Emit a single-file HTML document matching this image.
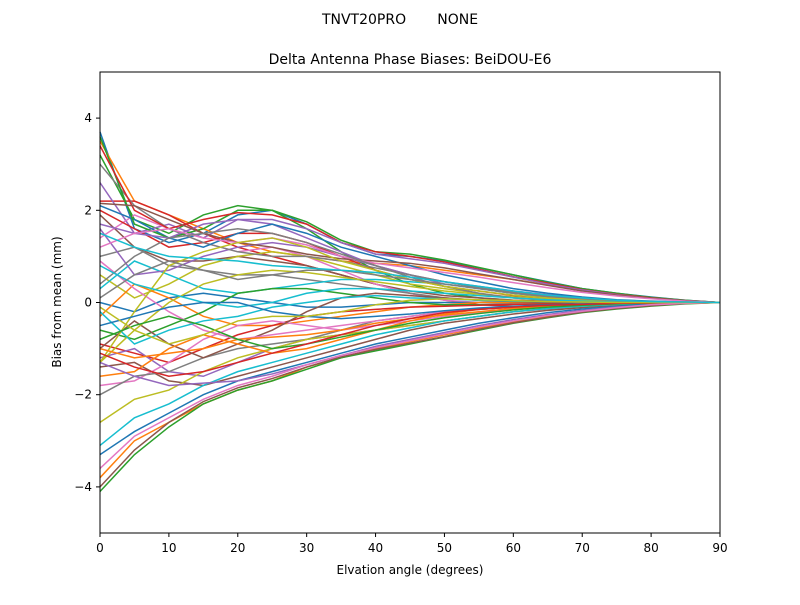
<!DOCTYPE html>
<html><head><meta charset="utf-8"><style>
body{margin:0;background:#fff}
svg text{font-family:"DejaVu Sans","Liberation Sans",sans-serif;fill:#000}
</style></head><body>
<svg id="chart" width="800" height="600" xmlns="http://www.w3.org/2000/svg">
<rect width="800" height="600" fill="#fff"/>
<text x="400" y="24" font-size="14" text-anchor="middle" style="white-space:pre">TNVT20PRO       NONE</text>
<text x="410" y="64" font-size="14" text-anchor="middle">Delta Antenna Phase Biases: BeiDOU-E6</text>
<g id="lines"></g>
<rect x="100" y="72" width="620" height="461" fill="none" stroke="#000" stroke-width="1"/>
<g id="xt"></g>
<g id="yt"></g>
<text x="410" y="574" font-size="12" text-anchor="middle">Elvation angle (degrees)</text>
<text transform="translate(61,302) rotate(-90)" font-size="12" text-anchor="middle">Bias from mean (mm)</text>
</svg>
<script>
const elevations=[0,5,10,15,20,25,30,35,40,45,50,55,60,65,70,75,80,85,90];
const xTicks=[0,10,20,30,40,50,60,70,80,90];
const yTicks=[-4,-2,0,2,4];
const s1=[3.7,1.6,1.3,1.5,1.9,2.0,1.7,1.3,1.05,1.0,0.9,0.75,0.6,0.45,0.3,0.2,0.12,0.05,0];
const s2=[3.5,2.2,1.9,1.6,1.3,1.1,1.0,0.9,0.85,0.8,0.7,0.6,0.5,0.38,0.27,0.18,0.1,0.04,0];
const s3=[3.2,1.8,1.5,1.9,2.1,2.0,1.6,1.1,0.7,0.4,0.2,0.1,0.05,0.02,0,0,0,0,0];
const s4=[2.2,2.2,1.9,1.5,1.2,1.0,0.8,0.6,0.4,0.2,0.05,-0.05,-0.08,-0.08,-0.06,-0.04,-0.02,-0.01,0];
const s5=[2.6,1.5,1.7,1.4,1.8,1.7,1.4,1.1,0.8,0.6,0.4,0.3,0.2,0.12,0.07,0.03,0.01,0,0];
const s6=[1.9,1.2,0.9,0.9,1.0,0.9,0.8,0.6,0.4,0.25,0.15,0.1,0.05,0.03,0.01,0,0,0,0];
const s7=[1.4,1.9,1.6,1.3,1.1,1.2,1.0,0.7,0.4,0.2,0.05,0,-0.03,-0.03,-0.02,-0.01,0,0,0];
const s8=[1.0,1.2,0.8,0.7,0.6,0.6,0.5,0.4,0.3,0.2,0.1,0.05,0.02,0,0,0,0,0,0];
const s9=[0.6,0.1,0.4,0.8,1.0,1.1,1.0,0.8,0.6,0.4,0.3,0.2,0.1,0.05,0.02,0.01,0,0,0];
const s10=[0.3,0.9,0.6,0.3,0.2,0.3,0.4,0.5,0.5,0.45,0.4,0.3,0.2,0.13,0.08,0.04,0.02,0.01,0];
const s11=[0.0,-0.2,0.1,0.2,0.1,0.0,-0.1,-0.1,-0.05,0,0,0,0,0,0,0,0,0,0];
const s12=[-0.3,0.4,0.1,-0.3,-0.5,-0.5,-0.4,-0.3,-0.2,-0.1,-0.05,0,0,0,0,0,0,0,0];
const s13=[-0.6,-0.8,-0.5,-0.2,0.2,0.3,0.3,0.2,0.1,0,-0.05,-0.05,-0.04,-0.03,-0.02,-0.01,0,0,0];
const s14=[-0.9,-1.1,-1.3,-1.0,-0.7,-0.5,-0.3,-0.2,-0.15,-0.1,-0.08,-0.06,-0.04,-0.03,-0.02,-0.01,0,0,0];
const s15=[-1.2,-1.0,-1.5,-1.6,-1.3,-1.0,-0.8,-0.7,-0.6,-0.5,-0.4,-0.3,-0.2,-0.14,-0.09,-0.05,-0.02,-0.01,0];
const s16=[-1.4,-1.3,-1.7,-1.8,-1.6,-1.4,-1.2,-1.0,-0.8,-0.6,-0.45,-0.35,-0.25,-0.17,-0.11,-0.06,-0.03,-0.01,0];
const s17=[-1.8,-1.7,-1.3,-0.8,-0.5,-0.4,-0.5,-0.6,-0.5,-0.4,-0.3,-0.22,-0.15,-0.1,-0.06,-0.03,-0.01,0,0];
const s18=[-2.0,-1.6,-1.5,-1.2,-1.0,-0.9,-0.8,-0.6,-0.4,-0.3,-0.2,-0.15,-0.1,-0.06,-0.03,-0.01,0,0,0];
const s19=[-2.6,-2.1,-1.9,-1.5,-1.2,-1.0,-0.8,-0.7,-0.6,-0.5,-0.4,-0.3,-0.2,-0.13,-0.08,-0.04,-0.02,0,0];
const s20=[-3.1,-2.5,-2.2,-1.8,-1.5,-1.3,-1.1,-0.9,-0.7,-0.55,-0.4,-0.3,-0.2,-0.13,-0.08,-0.04,-0.02,0,0];
const s21=[-3.3,-2.8,-2.4,-2.0,-1.7,-1.5,-1.3,-1.1,-0.9,-0.75,-0.6,-0.45,-0.33,-0.22,-0.14,-0.08,-0.03,-0.01,0];
const s22=[-3.8,-3.0,-2.6,-2.2,-1.9,-1.7,-1.4,-1.2,-1.0,-0.85,-0.7,-0.55,-0.42,-0.3,-0.2,-0.12,-0.06,-0.02,0];
const s23=[-4.1,-3.3,-2.7,-2.2,-1.9,-1.7,-1.45,-1.2,-1.05,-0.9,-0.75,-0.6,-0.45,-0.33,-0.22,-0.14,-0.08,-0.03,0];
const s24=[2.0,1.6,1.2,1.3,1.5,1.5,1.3,1.0,0.7,0.5,0.35,0.25,0.15,0.1,0.05,0.02,0.01,0,0];
const s25=[1.6,0.6,0.7,1.0,1.2,1.3,1.2,1.0,0.8,0.6,0.45,0.35,0.25,0.17,0.1,0.05,0.02,0.01,0];
const s26=[-1.0,-0.4,-0.9,-1.2,-0.9,-0.6,-0.2,0.1,0.2,0.15,0.1,0.05,0.02,0,0,0,0,0,0];
const s27=[0.9,0.3,-0.2,-0.6,-0.8,-0.7,-0.6,-0.5,-0.4,-0.3,-0.2,-0.15,-0.1,-0.06,-0.03,-0.01,0,0,0];
const s28=[3.0,2.1,1.6,1.3,1.1,1.0,1.0,0.9,0.75,0.6,0.45,0.32,0.22,0.14,0.08,0.04,0.02,0.01,0];
const s29=[-1.3,-0.6,0.0,0.4,0.6,0.7,0.65,0.55,0.45,0.35,0.25,0.18,0.12,0.07,0.04,0.02,0.01,0,0];
const s30=[-0.2,-0.9,-0.6,-0.4,-0.3,-0.1,0.0,0.1,0.15,0.1,0.08,0.05,0.03,0.02,0.01,0,0,0,0];
const s31=[2.1,1.8,1.4,1.2,1.5,1.7,1.5,1.2,1.0,0.8,0.6,0.45,0.3,0.2,0.12,0.06,0.03,0.01,0];
const s32=[-1.6,-1.5,-1.0,-0.7,-0.9,-1.1,-1.0,-0.8,-0.6,-0.4,-0.25,-0.15,-0.1,-0.06,-0.03,-0.01,0,0,0];
const s33=[3.6,1.7,1.4,1.6,2.0,2.0,1.75,1.35,1.1,1.05,0.92,0.76,0.6,0.44,0.3,0.2,0.11,0.05,0];
const s34=[3.4,2.0,1.6,1.8,1.95,1.9,1.7,1.3,1.1,1.0,0.88,0.72,0.56,0.42,0.28,0.18,0.1,0.04,0];
const s35=[1.7,1.5,1.4,1.7,1.8,1.8,1.6,1.3,1.05,0.95,0.85,0.7,0.55,0.4,0.27,0.17,0.09,0.04,0];
const s36=[2.15,2.1,1.8,1.5,1.3,1.2,1.05,0.95,0.9,0.85,0.75,0.62,0.5,0.37,0.25,0.16,0.09,0.04,0];
const s37=[1.2,1.5,1.6,1.4,1.3,1.4,1.25,1.0,0.85,0.75,0.65,0.55,0.43,0.32,0.22,0.14,0.08,0.03,0];
const s38=[0.4,1.0,1.4,1.5,1.6,1.5,1.3,1.05,0.8,0.55,0.35,0.2,0.1,0.05,0.02,0.01,0,0,0];
const s39=[-1.3,-0.2,0.8,1.1,1.3,1.4,1.2,0.9,0.7,0.5,0.35,0.25,0.16,0.1,0.06,0.03,0.01,0,0];
const s40=[0.8,0.4,0.2,0.0,-0.1,0.0,0.2,0.3,0.3,0.25,0.2,0.15,0.1,0.06,0.03,0.01,0,0,0];
const s41=[-0.5,-0.3,-0.1,0.0,0.0,-0.2,-0.3,-0.35,-0.3,-0.25,-0.18,-0.12,-0.08,-0.05,-0.03,-0.01,0,0,0];
const s42=[-1.0,-1.2,-1.1,-1.0,-0.8,-0.75,-0.7,-0.6,-0.45,-0.35,-0.27,-0.2,-0.13,-0.08,-0.05,-0.02,-0.01,0,0];
const s43=[-0.8,-0.5,-0.3,-0.5,-0.8,-1.0,-0.9,-0.75,-0.6,-0.45,-0.33,-0.24,-0.16,-0.1,-0.06,-0.03,-0.01,0,0];
const s44=[-1.1,-1.4,-1.6,-1.5,-1.3,-1.1,-0.9,-0.7,-0.5,-0.35,-0.22,-0.15,-0.1,-0.06,-0.04,-0.02,-0.01,0,0];
const s45=[-1.3,-1.6,-1.8,-1.75,-1.7,-1.55,-1.35,-1.15,-0.95,-0.8,-0.65,-0.5,-0.37,-0.26,-0.17,-0.1,-0.05,-0.02,0];
const s46=[-4.0,-3.2,-2.6,-2.15,-1.85,-1.65,-1.4,-1.18,-1.02,-0.88,-0.74,-0.58,-0.44,-0.32,-0.21,-0.13,-0.07,-0.02,0];
const s47=[-3.6,-2.9,-2.5,-2.1,-1.8,-1.6,-1.35,-1.15,-0.98,-0.83,-0.68,-0.53,-0.4,-0.28,-0.19,-0.11,-0.05,-0.02,0];
const s48=[0.1,0.6,0.9,0.7,0.5,0.6,0.7,0.7,0.6,0.5,0.4,0.3,0.2,0.13,0.08,0.04,0.02,0.01,0];
const s49=[-0.1,-0.6,-0.9,-0.7,-0.4,-0.3,-0.3,-0.2,-0.05,0.05,0.08,0.06,0.04,0.02,0.01,0,0,0,0];
const s50=[1.5,1.2,1.0,0.95,0.9,0.8,0.75,0.7,0.65,0.55,0.45,0.35,0.25,0.16,0.1,0.05,0.02,0.01,0];
const seriesList=[s1,s2,s3,s4,s5,s6,s7,s8,s9,s10,s11,s12,s13,s14,s15,s16,s17,s18,s19,s20,s21,s22,s23,s24,s25,s26,s27,s28,s29,s30,s31,s32,s33,s34,s35,s36,s37,s38,s39,s40,s41,s42,s43,s44,s45,s46,s47,s48,s49,s50];
const colors=["#1f77b4","#ff7f0e","#2ca02c","#d62728","#9467bd","#8c564b","#e377c2","#7f7f7f","#bcbd22","#17becf"];
const NS="http://www.w3.org/2000/svg";
const xS=v=>100+v/90*620;
const yS=v=>302.5-v*46.1;
const lg=document.getElementById('lines');
seriesList.forEach((s,i)=>{
  const p=document.createElementNS(NS,'polyline');
  p.setAttribute('points',s.map((v,j)=>xS(elevations[j])+','+yS(v)).join(' '));
  p.setAttribute('fill','none');p.setAttribute('stroke',colors[i%10]);p.setAttribute('stroke-width','1.5');
  
  
  lg.appendChild(p);
});
const xt=document.getElementById('xt');
xTicks.forEach(t=>{
  const l=document.createElementNS(NS,'line');
  l.setAttribute('x1',xS(t));l.setAttribute('x2',xS(t));l.setAttribute('y1',533);l.setAttribute('y2',537);l.setAttribute('stroke','#000');
  
  
  xt.appendChild(l);
  const tx=document.createElementNS(NS,'text');
  tx.setAttribute('x',xS(t));tx.setAttribute('y',552);tx.setAttribute('font-size','12');tx.setAttribute('text-anchor','middle');
  tx.textContent=t;
  
  
  xt.appendChild(tx);
});
const yt=document.getElementById('yt');
yTicks.forEach(t=>{
  const l=document.createElementNS(NS,'line');
  l.setAttribute('x1',96);l.setAttribute('x2',100);l.setAttribute('y1',yS(t));l.setAttribute('y2',yS(t));l.setAttribute('stroke','#000');
  
  
  yt.appendChild(l);
  const tx=document.createElementNS(NS,'text');
  tx.setAttribute('x',92);tx.setAttribute('y',yS(t)+4);tx.setAttribute('font-size','12');tx.setAttribute('text-anchor','end');
  tx.textContent=t<0?'\u2212'+(-t):String(t);
  
  
  yt.appendChild(tx);
});
</script>
</body></html>
